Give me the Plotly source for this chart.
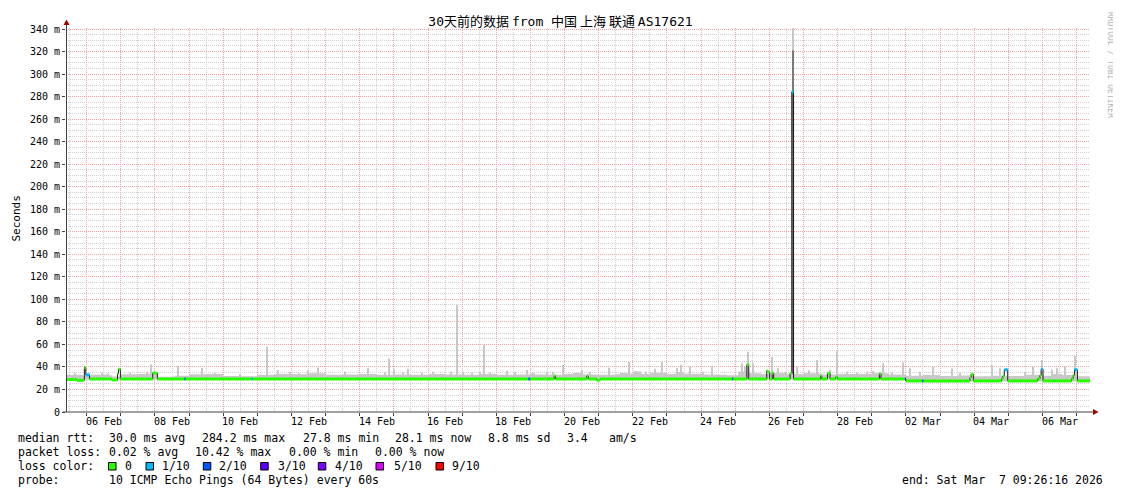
import plotly.graph_objects as go

START = "2026-02-05 09:26:16"
END = "2026-03-07 09:26:16"

# median rtt (ms) as steps; each value holds until the next time stamp
median_times = [
    "02-05 09:26", "02-05 17:10", "02-05 22:20", "02-05 23:20", "02-06 02:00",
    "02-06 17:35", "02-06 21:40", "02-06 22:20", "02-06 23:40", "02-07 22:25",
    "02-08 01:40", "02-08 20:40", "02-08 21:25", "02-10 19:50", "02-10 20:50",
    "02-18 22:30", "02-18 23:45", "02-19 16:40", "02-19 17:40", "02-20 15:40",
    "02-20 16:40", "02-20 22:30", "02-21 01:00", "02-24 21:40", "02-24 22:30",
    "02-25 08:10", "02-25 09:30", "02-25 22:10", "02-25 23:00", "02-26 00:10",
    "02-26 02:00", "02-26 03:00", "02-26 14:35", "02-26 15:45", "02-26 17:00",
    "02-27 12:00", "02-27 12:50", "02-27 16:50", "02-27 18:40", "02-27 22:30",
    "02-28 00:00", "03-01 05:20", "03-01 06:30", "03-01 23:20", "03-02 00:00",
    "03-02 11:30", "03-02 12:15", "03-03 21:05", "03-03 21:50", "03-03 23:25",
    "03-04 19:15", "03-04 20:10", "03-04 21:10", "03-04 23:35", "03-05 20:35",
    "03-05 22:15", "03-05 23:05", "03-06 00:25", "03-06 20:30", "03-06 21:35",
    "03-06 22:30", "03-07 00:35", "03-07 09:26",
]
median_ms = [
    28.8, 28.1, 39.5, 33.0, 29.3,
    28.4, 34.0, 38.0, 29.3, 34.5,
    29.3, 29.3, 29.3, 29.3, 29.3,
    29.3, 29.3, 32.0, 29.3, 32.0,
    29.3, 28.3, 29.3, 29.3, 29.3,
    42.0, 29.3, 36.5, 35.5, 29.3,
    34.5, 29.3, 34.5, 284.2, 29.3,
    32.0, 29.3, 34.3, 29.3, 31.0,
    29.3, 34.0, 29.3, 29.3, 27.6,
    27.6, 27.6, 30.5, 33.5, 27.6,
    29.5, 32.0, 37.5, 27.6, 29.5,
    32.5, 38.0, 27.6, 29.5, 32.5,
    37.5, 27.6, 28.1,
]
# lost pings out of 10 for each step
median_loss = [
    0, 0, 0, 1, 0,
    0, 0, 0, 0, 0,
    0, 2, 0, 1, 0,
    2, 0, 0, 0, 0,
    0, 0, 0, 2, 0,
    0, 0, 0, 0, 0,
    0, 0, 0, 1, 0,
    0, 0, 0, 0, 0,
    0, 0, 0, 3, 0,
    2, 0, 0, 0, 0,
    0, 0, 1, 0, 0,
    0, 1, 0, 0, 0,
    1, 0, 0,
]

# smoke band (upper edge of the ping spread), steps
smoke_times = [
    "02-05 09:26", "02-05 21:00", "02-06 03:00", "02-06 15:00", "02-06 18:00",
    "02-07 00:00", "02-07 12:00", "02-08 02:00", "02-08 14:00", "02-09 00:00",
    "02-09 12:00", "02-10 00:00", "02-10 12:00", "02-11 00:00", "02-11 12:00",
    "02-12 00:00", "02-12 12:00", "02-13 00:00", "02-13 12:00", "02-14 00:00",
    "02-14 12:00", "02-15 00:00", "02-15 12:00", "02-16 00:00", "02-16 12:00",
    "02-17 00:00", "02-17 12:00", "02-18 00:00", "02-18 12:00", "02-19 00:00",
    "02-19 03:00", "02-19 12:00", "02-20 00:00", "02-20 06:00", "02-20 12:00",
    "02-21 00:00", "02-21 12:00", "02-21 15:00", "02-21 21:00", "02-22 00:00",
    "02-22 06:00", "02-22 12:00", "02-23 00:00", "02-23 06:00", "02-23 12:00",
    "02-24 00:00", "02-24 12:00", "02-24 18:00", "02-25 02:00", "02-25 10:00",
    "02-25 18:00", "02-26 00:00", "02-26 12:00", "02-27 00:00", "02-27 12:00",
    "02-28 00:00", "02-28 12:00", "03-01 00:00", "03-01 12:00", "03-02 00:00",
    "03-02 12:00", "03-03 00:00", "03-03 12:00", "03-04 00:00", "03-04 12:00",
    "03-05 00:00", "03-05 12:00", "03-06 00:00", "03-06 06:00", "03-06 14:00",
    "03-07 00:00", "03-07 09:26",
]
smoke_ms = [
    33.0, 32.5, 33.3, 32.6, 31.5,
    33.5, 33.8, 31.4, 32.2, 33.5,
    33.8, 32.0, 31.8, 33.0, 33.8,
    33.5, 34.3, 33.0, 33.4, 33.8,
    33.0, 33.4, 33.0, 33.8, 33.4,
    33.0, 33.8, 33.0, 33.4, 34.6,
    33.2, 33.0, 33.8, 34.6, 33.4,
    33.0, 33.6, 34.6, 34.0, 36.0,
    33.8, 34.6, 33.8, 35.5, 34.0,
    33.4, 33.0, 32.6, 36.0, 34.3,
    33.8, 34.6, 33.8, 34.3, 33.4,
    33.8, 33.8, 34.3, 33.4, 32.2,
    32.8, 32.0, 32.5, 31.8, 32.2,
    32.0, 33.0, 32.2, 33.8, 32.8,
    31.8, 31.8,
]
smoke_floor_times = ["02-05 09:26", "03-02 00:00", "03-07 09:26"]
smoke_floor_ms = [28.6, 27.0, 27.0]

# single-step smoke spikes (max ping)
spike_times = [
    "02-05 15:45", "02-06 10:35", "02-06 15:10", "02-07 06:25", "02-07 18:25",
    "02-07 21:00", "02-08 16:25", "02-09 08:55", "02-09 18:10", "02-10 11:50",
    "02-11 07:00", "02-11 14:45", "02-11 22:55", "02-12 05:05", "02-12 11:50",
    "02-12 18:25", "02-13 13:35", "02-14 06:00", "02-14 17:45", "02-14 20:50",
    "02-15 00:20", "02-15 06:40", "02-15 10:10", "02-15 19:35", "02-16 03:45",
    "02-16 16:10", "02-16 20:35", "02-17 00:25", "02-17 07:10", "02-17 12:35",
    "02-17 15:35", "02-17 19:35", "02-18 07:20", "02-18 13:10", "02-18 21:25",
    "02-19 11:30", "02-19 15:55", "02-19 22:40", "02-20 12:05", "02-20 17:55",
    "02-21 07:30", "02-21 21:35", "02-22 02:15", "02-22 09:05", "02-22 15:40",
    "02-22 20:20", "02-23 07:05", "02-23 09:35", "02-23 16:15", "02-24 01:35",
    "02-24 07:30", "02-25 04:35", "02-25 06:35", "02-25 09:00", "02-25 12:45",
    "02-26 02:05", "02-26 06:05", "02-26 11:25", "02-26 16:40", "02-26 19:20",
    "02-27 03:55", "02-27 09:20", "02-27 18:40", "02-27 23:25", "02-28 06:25",
    "02-28 13:30", "02-28 20:30", "03-01 01:10", "03-01 08:10", "03-01 14:15",
    "03-01 21:50", "03-02 02:55", "03-02 10:00", "03-02 19:05", "03-03 08:15",
    "03-03 14:05", "03-04 12:25", "03-04 18:15", "03-05 11:50", "03-05 17:40",
    "03-05 23:35", "03-06 06:50", "03-06 10:20", "03-06 15:55", "03-06 22:55",
]
spike_ms = [
    34.5, 34.6, 34.3, 34.9, 35.8,
    42.3, 40.8, 39.0, 34.9, 33.8,
    58.0, 37.0, 35.5, 34.5, 37.0,
    39.5, 36.0, 39.0, 35.0, 47.5,
    38.0, 35.0, 38.5, 34.9, 35.8,
    35.8, 95.0, 35.8, 34.9, 35.8,
    59.5, 34.9, 36.7, 35.8, 37.3,
    35.8, 35.8, 41.7, 37.3, 35.8,
    39.3, 44.3, 36.5, 35.8, 38.5,
    44.7, 39.0, 42.0, 40.2, 35.8,
    40.2, 43.2, 40.0, 53.5, 43.2,
    49.0, 38.8, 35.8, 345.0, 40.2,
    37.0, 46.2, 37.3, 54.0, 35.8,
    34.9, 35.8, 36.5, 43.2, 35.0,
    44.0, 38.8, 35.8, 40.2, 38.6,
    34.9, 41.7, 38.8, 35.8, 40.0,
    46.2, 37.5, 38.8, 40.2, 49.7,
]
# denser smoke core of the big outage
core_times = ["02-26 16:40"]
core_ms = [321.0]

y_ticks = [0, 20, 40, 60, 80, 100, 120, 140, 160, 180, 200, 220, 240, 260, 280, 300, 320, 340]
y_tick_text = ["0", "20 m", "40 m", "60 m", "80 m", "100 m", "120 m", "140 m", "160 m",
               "180 m", "200 m", "220 m", "240 m", "260 m", "280 m", "300 m", "320 m", "340 m"]
x_tick_times = ["02-06 12:00", "02-08 12:00", "02-10 12:00", "02-12 12:00", "02-14 12:00",
                "02-16 12:00", "02-18 12:00", "02-20 12:00", "02-22 12:00", "02-24 12:00",
                "02-26 12:00", "02-28 12:00", "03-02 12:00", "03-04 12:00", "03-06 12:00"]
x_tick_text = ["06 Feb", "08 Feb", "10 Feb", "12 Feb", "14 Feb", "16 Feb", "18 Feb", "20 Feb",
               "22 Feb", "24 Feb", "26 Feb", "28 Feb", "02 Mar", "04 Mar", "06 Mar"]

loss_levels = [0, 1, 2, 3, 4, 5, 9]
loss_labels = ["0", "1/10", "2/10", "3/10", "4/10", "5/10", "9/10"]
LOSS_COLORS = ["#26ff00", "#00b8ff", "#0059ff", "#5e00ff", "#7e00ff", "#dd00ff", "#ff0000"]

MONO = "DejaVu Sans Mono"
CJK = "Noto Sans CJK SC"
MGRID = "#f2a2a2"
GRID = "#cfcfcf"
AXIS = "#404040"
ARROW = "#a00000"
SMOKE = "#c8c8c8"
SMOKE_BASE = 29.0
STEP_MS = 2.5e6  # one pixel column of the 30 day graph

# The page body adds an 8px margin, so the figure is 8px smaller and the
# plot area (page pixels x 66..1090, y 28..412) sits at margin l=58, t=20.
FIG_W, FIG_H = 1113, 486


def px_x(px):
    return (px - 66) / 1024


def px_y(py):
    return (412 - py) / 384


def ts(s):
    return "2026-" + s


fig = go.Figure()

# smoke spikes
fig.add_trace(go.Bar(x=[ts(t) for t in spike_times], y=[v - SMOKE_BASE for v in spike_ms],
                     base=SMOKE_BASE, width=STEP_MS, marker=dict(color=SMOKE, line_width=0),
                     opacity=1, hoverinfo="skip"))
fig.add_trace(go.Bar(x=[ts(t) for t in core_times], y=[v - SMOKE_BASE for v in core_ms],
                     base=SMOKE_BASE, width=STEP_MS, marker=dict(color="#7a7a7a", line_width=0),
                     opacity=1, hoverinfo="skip"))

# smoke band
fig.add_trace(go.Scatter(x=[ts(t) for t in smoke_floor_times], y=smoke_floor_ms, mode="lines",
                         line=dict(width=0, shape="hv"), hoverinfo="skip"))
fig.add_trace(go.Scatter(x=[ts(t) for t in smoke_times], y=smoke_ms, mode="lines",
                         line=dict(width=0, shape="hv"), fill="tonexty", fillcolor=SMOKE,
                         hoverinfo="skip"))

# dark median line (shows on the jumps)
fig.add_trace(go.Scatter(x=[ts(t) for t in median_times], y=median_ms, mode="lines",
                         line=dict(color="#1a1a1a", width=1, shape="hv"), hoverinfo="skip"))

# median band coloured by packet loss
for level, color in zip(loss_levels, LOSS_COLORS):
    xs, ys = [], []
    for i in range(len(median_times) - 1):
        if median_loss[i] == level:
            xs += [ts(median_times[i]), ts(median_times[i + 1]), None]
            ys += [median_ms[i], median_ms[i], None]
    if xs:
        fig.add_trace(go.Scatter(x=xs, y=ys, mode="lines", line=dict(color=color, width=3),
                                 hoverinfo="skip"))


def cjk(s):
    return f'<span style="font-family:{CJK}">{s}</span>'


TITLE = "30" + cjk("天前的数据 ") + "from " + cjk("中国 上海 联通 ") + "AS17621"

fig.update_layout(
    width=FIG_W, height=FIG_H,
    margin=dict(l=58, r=31, t=20, b=82),
    paper_bgcolor="white", plot_bgcolor="white",
    showlegend=False, barmode="overlay", hovermode=False,
    font=dict(family=MONO, size=10, color="black"),
    title=dict(text=TITLE, x=(560.5 - 8) / FIG_W, xref="container", xanchor="center",
               y=1 - 13 / FIG_H, yref="container", yanchor="middle",
               font=dict(family=MONO + ", " + CJK, size=13, color="black")),
    xaxis=dict(type="date", range=[START, END], tick0="2026-02-06", dtick=86400000,
               showticklabels=False, ticks="outside", ticklen=3, tickcolor=AXIS,
               showgrid=True, gridcolor=MGRID, gridwidth=1, griddash="1px,1px",
               minor=dict(tick0="2026-02-06", dtick=43200000, showgrid=True,
                          gridcolor=GRID, gridwidth=1, griddash="1px,1px"),
               zeroline=False, showline=False, fixedrange=True),
    yaxis=dict(range=[0, 340.9], tickmode="array", tickvals=y_ticks, ticktext=y_tick_text,
               ticks="outside", ticklen=3, tickcolor=AXIS, tickfont=dict(size=10),
               showgrid=True, gridcolor=MGRID, gridwidth=1, griddash="1px,1px",
               minor=dict(tickmode="linear", tick0=0, dtick=5, showgrid=True,
                          gridcolor=GRID, gridwidth=1, griddash="1px,1px"),
               zeroline=False, showline=False, fixedrange=True),
)

shapes = [
    # axes with arrows
    dict(type="line", xref="paper", yref="paper", x0=px_x(66.5), x1=px_x(66.5),
         y0=px_y(412), y1=px_y(23), line=dict(color=AXIS, width=1)),
    dict(type="line", xref="paper", yref="paper", x0=px_x(63), x1=px_x(1094),
         y0=px_y(412), y1=px_y(412), line=dict(color=AXIS, width=1)),
    dict(type="path", xref="paper", yref="paper", fillcolor=ARROW, line=dict(width=0),
         path=f"M {px_x(66.5)} {px_y(19.5)} L {px_x(63.5)} {px_y(25)} L {px_x(69.5)} {px_y(25)} Z"),
    dict(type="path", xref="paper", yref="paper", fillcolor=ARROW, line=dict(width=0),
         path=f"M {px_x(1098.5)} {px_y(412)} L {px_x(1093)} {px_y(409)} L {px_x(1093)} {px_y(415)} Z"),
]

annotations = [
    dict(text="Seconds", xref="paper", yref="paper", x=px_x(15.5), y=px_y(219),
         xanchor="center", yanchor="middle", textangle=-90, showarrow=False,
         font=dict(family=MONO, size=11)),
    dict(text="RRDTOOL / TOBI OETIKER", xref="paper", yref="paper", x=px_x(1110), y=px_y(65),
         xanchor="center", yanchor="middle", textangle=90, showarrow=False,
         font=dict(family=MONO, size=8, color="#b4b4b4")),
]
for t, label in zip(x_tick_times, x_tick_text):
    annotations.append(dict(text=label, xref="x", yref="paper", x=ts(t), y=px_y(421.5),
                            xanchor="center", yanchor="middle", showarrow=False,
                            font=dict(family=MONO, size=10)))

LEG = 11.5
legend_rows = [
    (438, [(16, "median rtt:"), (107.3, "30.0 ms avg"), (200, "284.2 ms max"),
           (300.7, "27.8 ms min"), (393.3, "28.1 ms now"), (486, "8.8 ms sd"),
           (565, "3.4"), (607.3, "am/s")]),
    (452, [(16, "packet loss:"), (107.3, "0.02 % avg"), (193.3, "10.42 % max"),
           (286.7, "0.00 % min"), (372.7, "0.00 % now")]),
    (466, [(16, "loss color:")]),
    (480, [(16, "probe:"), (107.3, "10 ICMP Echo Pings (64 Bytes) every 60s")]),
]
for py, items in legend_rows:
    for px, text in items:
        annotations.append(dict(text=text, xref="paper", yref="paper", x=px_x(px), y=px_y(py),
                                xanchor="left", yanchor="middle", showarrow=False,
                                font=dict(family=MONO, size=LEG)))
annotations.append(dict(text="end: Sat Mar &nbsp;7 09:26:16 2026",
                        xref="paper", yref="paper", x=px_x(1105), y=px_y(480),
                        xanchor="right", yanchor="middle", showarrow=False,
                        font=dict(family=MONO, size=LEG)))

box_left = [108.5, 146, 203.3, 260.7, 318.3, 376, 436]
label_left = [123.3, 160, 217.3, 275.7, 333.3, 392, 450]
for bx, lx, color, label in zip(box_left, label_left, LOSS_COLORS, loss_labels):
    shapes.append(dict(type="rect", xref="paper", yref="paper", x0=px_x(bx), x1=px_x(bx + 7.5),
                       y0=px_y(462.5), y1=px_y(470), fillcolor=color,
                       line=dict(color="black", width=1)))
    annotations.append(dict(text=label, xref="paper", yref="paper", x=px_x(lx), y=px_y(466),
                            xanchor="left", yanchor="middle", showarrow=False,
                            font=dict(family=MONO, size=LEG)))

fig.update_layout(shapes=shapes, annotations=annotations)
fig.write_html("out.html")
